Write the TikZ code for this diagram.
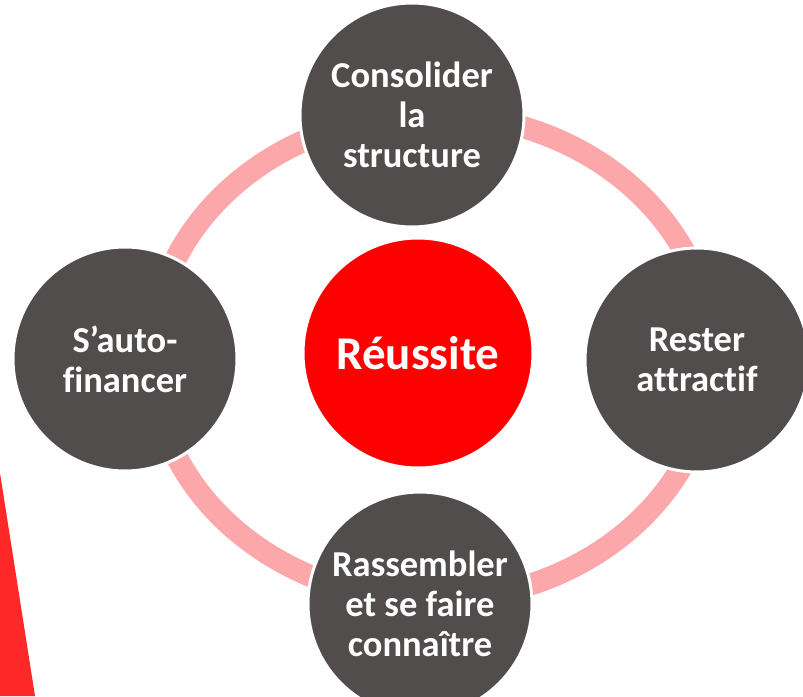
\documentclass[tikz,border=0pt]{standalone}
\usepackage{fontspec}
\setmainfont{Carlito}[Ligatures=NoCommon]

\definecolor{discgray}{RGB}{81,77,76}
\definecolor{ringpink}{RGB}{252,168,170}
\definecolor{wedgered}{RGB}{255,40,40}

\begin{document}
\begin{tikzpicture}[x=1pt,y=-1pt,line join=round,
  disc/.style={circle,fill=discgray,draw=white,line width=3pt,minimum size=224pt,inner sep=0pt,align=center,text=white,font=\bfseries\fontsize{36.5}{40}\selectfont},
  core/.style={disc,fill=red,minimum size=230pt,font=\bfseries\fontsize{47}{50}\selectfont},
  ring/.style={draw=ringpink,line width=22pt}]
\useasboundingbox (0,0) rectangle (803,696);
\fill[wedgered] (0,473)--(35,696)--(0,696)--cycle;
\draw[ring] (432,357) ellipse [x radius=280pt, y radius=243pt];
\node[core] (success) at (418,353) {Réussite};
\node[disc] (consolidate) at (412,115) {Consolider\\la\\structure};
\node[disc] (attract) at (697,360) {Rester\\attractif};
\node[disc] (gather) at (420,604) {Rassembler\\et se faire\\connaître};
\node[disc] (selffund) at (125,359) {S’auto-\\financer};
\end{tikzpicture}
\end{document}
